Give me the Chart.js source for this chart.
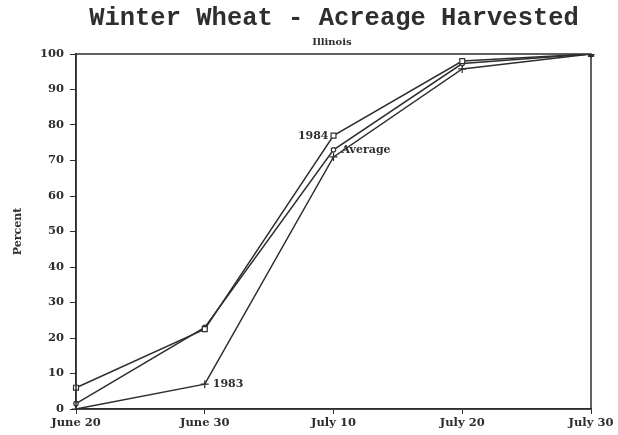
<!DOCTYPE html>
<html>
<head>
<meta charset="utf-8">
<script src="https://cdn.jsdelivr.net/npm/chart.js@4"></script>
<style>
  html, body { margin: 0; padding: 0; background: #fff; }
  #wrap { width: 618px; height: 435px; position: relative; }
</style>
</head>
<body>
<div id="wrap"><canvas id="wheatChart" width="618" height="435"></canvas></div>
<script>
// --- DATA ---
const dates = ['June 20', 'June 30', 'July 10', 'July 20', 'July 30'];
const yr1984 = [6, 22.5, 77, 98, 100];
const avg = [1.5, 23, 73, 97.3, 100];
const yr1983 = [0, 7, 71, 95.8, 100];
const yTicks = [0, 10, 20, 30, 40, 50, 60, 70, 80, 90, 100];

const ink = '#2e2e2e';
const labelFont = { family: 'DejaVu Serif', weight: 'bold', size: 11.5 };

// --- HELPER: text on top (title, subtitle, series labels, frame) ---
const decor = {
    id: 'decor',
    afterDraw(chart) {
        const { ctx, chartArea, scales } = chart;
        ctx.save();
        // frame round the plot
        ctx.strokeStyle = ink;
        ctx.lineWidth = 1.5;
        ctx.strokeRect(chartArea.left, chartArea.top, chartArea.right - chartArea.left, chartArea.bottom - chartArea.top);

        ctx.fillStyle = ink;
        ctx.textBaseline = 'middle';
        ctx.font = 'bold 25.5px "Liberation Mono"';
        ctx.textAlign = 'center';
        ctx.fillText('Winter Wheat - Acreage Harvested', 334, 19);
        ctx.font = 'bold 10px "DejaVu Serif"';
        ctx.fillText('Illinois', 332, 42);

        // series labels next to their points
        ctx.font = 'bold 11px "DejaVu Serif"';
        const x = (i) => scales.x.getPixelForValue(i);
        const y = (v) => scales.y.getPixelForValue(v);
        ctx.textAlign = 'right';
        ctx.fillText('1984', x(2) - 5, y(yr1984[2]));
        ctx.textAlign = 'left';
        ctx.fillText('Average', x(2) + 8, y(avg[2]));
        ctx.fillText('1983', x(1) + 8, y(yr1983[1]));
        ctx.restore();
    }
};

const base = {
    borderColor: ink,
    pointBorderColor: ink,
    borderWidth: 1.5,
    pointBorderWidth: 1.2,
    tension: 0,
    fill: false
};

new Chart(document.getElementById('wheatChart'), {
    type: 'line',
    data: {
        labels: dates,
        datasets: [
            { ...base, label: '1984', data: yr1984, pointStyle: 'rect', pointRadius: 3.5, pointBackgroundColor: ['#fff', '#fff', '#fff', '#fff', ink] },
            { ...base, label: 'Average', data: avg, pointStyle: 'circle', pointRadius: 2.2, pointBackgroundColor: '#fff' },
            { ...base, label: '1983', data: yr1983, pointStyle: 'cross', pointRadius: 4, pointBackgroundColor: ink }
        ]
    },
    options: {
        responsive: false,
        animation: false,
        layout: { padding: { left: 12, right: 27, top: 54, bottom: 0 } },
        plugins: {
            legend: { display: false },
            tooltip: { enabled: false }
        },
        scales: {
            x: {
                type: 'category',
                offset: false,
                grid: { drawOnChartArea: false, drawTicks: true, tickLength: 5, color: ink },
                border: { color: ink, width: 1.5 },
                ticks: { color: ink, font: labelFont, padding: 2, maxRotation: 0, autoSkip: false },
                afterFit(scale) { scale.height = 26; }
            },
            y: {
                min: 0,
                max: 100,
                afterBuildTicks(scale) { scale.ticks = yTicks.map(v => ({ value: v })); },
                grid: { drawOnChartArea: false, drawTicks: true, tickLength: 6, color: ink },
                border: { color: ink, width: 1.5 },
                ticks: { color: ink, font: labelFont, padding: 6 },
                title: { display: true, text: 'Percent', color: ink, font: { family: 'DejaVu Serif', weight: 'bold', size: 11 }, padding: { top: 0, bottom: 4 } },
                afterFit(scale) { scale.width = 64; }
            }
        }
    },
    plugins: [decor]
});
</script>
</body>
</html>
